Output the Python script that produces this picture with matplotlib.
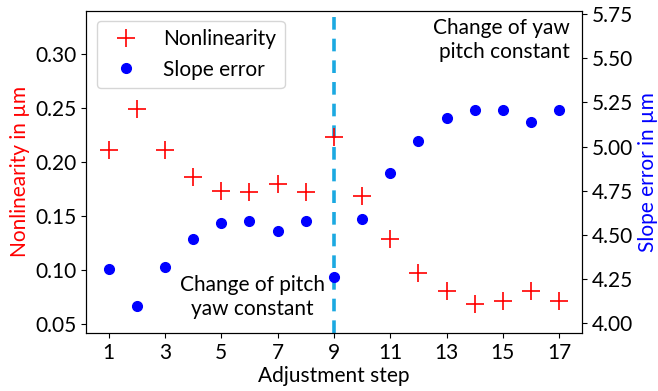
import matplotlib.pyplot as plt

plt.rcParams['font.family'] = ['Lato', 'DejaVu Sans']

steps = list(range(1, 18))
nonlinearity = [0.211, 0.249, 0.211, 0.186, 0.173, 0.172, 0.180, 0.172, 0.223,
                0.169, 0.129, 0.098, 0.081, 0.069, 0.072, 0.081, 0.072]
slope_error = [4.31, 4.10, 4.32, 4.48, 4.57, 4.58, 4.52, 4.58, 4.26,
               4.59, 4.85, 5.03, 5.16, 5.21, 5.21, 5.14, 5.21]
switch_step = 9

fs = 15

fig, ax1 = plt.subplots(figsize=(6.58, 3.91), dpi=100)
fig.subplots_adjust(left=0.131, right=0.884, top=0.973, bottom=0.148)
ax2 = ax1.twinx()

# grenze zwischen pitch- und yaw-justage
ax1.axvline(switch_step, color='#1ba9e1', linestyle=(0, (3.5, 2.5)), linewidth=2.6, zorder=1)

l1, = ax1.plot(steps, nonlinearity, '+', color='red', markersize=13.5, markeredgewidth=1.2,
               label='Nonlinearity', zorder=3)
l2, = ax2.plot(steps, slope_error, 'o', color='blue', markersize=7, label='Slope error', zorder=3)

ax1.set_xlim(0.2, 17.8)
ax1.set_ylim(0.042, 0.340)
ax2.set_ylim(3.945, 5.77)

ax1.set_xticks(range(1, 18, 2))
ax1.set_yticks([0.05, 0.10, 0.15, 0.20, 0.25, 0.30])
ax2.set_yticks([4.00, 4.25, 4.50, 4.75, 5.00, 5.25, 5.50, 5.75])
ax1.yaxis.set_major_formatter('{x:.2f}')
ax2.yaxis.set_major_formatter('{x:.2f}')
ax1.tick_params(labelsize=fs)
ax2.tick_params(labelsize=fs)

ax1.set_xlabel('Adjustment step', fontsize=fs, labelpad=2)
ax1.set_ylabel('Nonlinearity in µm', color='red', fontsize=fs)
ax2.set_ylabel('Slope error in µm', color='blue', fontsize=fs)

ax1.text(6.1, 0.075, 'Change of pitch\nyaw constant', ha='center', va='center',
         fontsize=fs, linespacing=1.25)
ax1.text(17.39, 0.313, 'Change of yaw\npitch constant', ha='right', va='center',
         fontsize=fs, linespacing=1.25)

ax2.legend(handles=[l1, l2], loc='upper left', fontsize=fs, borderaxespad=0.5,
           handletextpad=0.8)

fig.savefig('out.png', dpi=100)
